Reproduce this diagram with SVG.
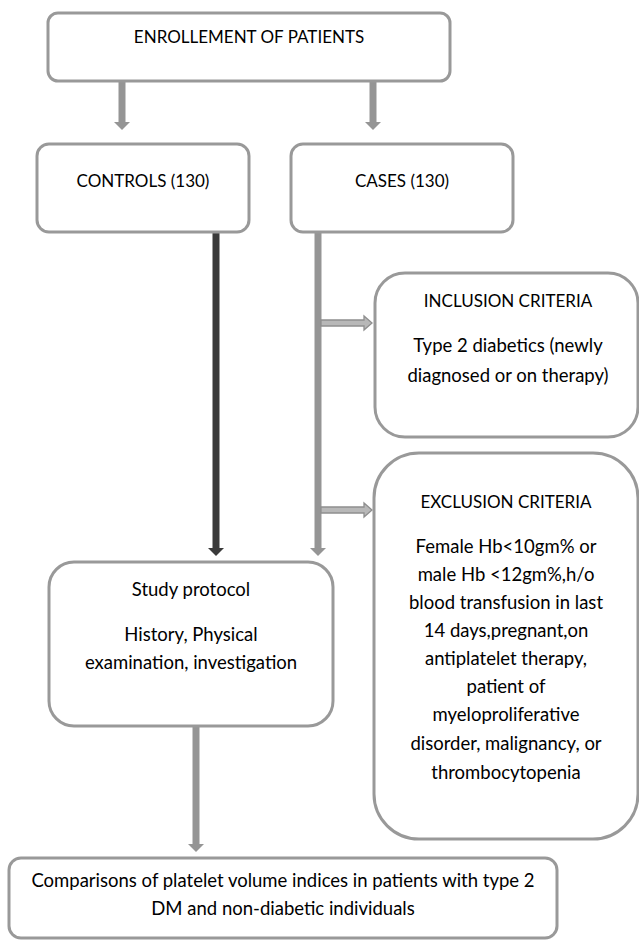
<svg xmlns="http://www.w3.org/2000/svg" width="639" height="941" viewBox="0 0 639 941">
<style>
.box{fill:#fff;stroke:#999;stroke-width:3}
.t{font-family:Lato,"Liberation Sans",sans-serif;font-size:18.5px;fill:#000;text-anchor:middle}
.c{font-size:17px}
.g{stroke:#959595;stroke-width:7;fill:none}
.d{stroke:#3a3a3a;stroke-width:7;fill:none}
.h{fill:#b8b8b8;stroke:#8f8f8f;stroke-width:1.3}
</style>
<defs>
<marker id="ag" viewBox="0 -8 8 16" refX="0" refY="0" markerUnits="userSpaceOnUse" markerWidth="8" markerHeight="16" orient="auto"><path d="M0,-8 L8,0 L0,8 Z" fill="#959595"/></marker>
<marker id="ad" viewBox="0 -8 8 16" refX="0" refY="0" markerUnits="userSpaceOnUse" markerWidth="8" markerHeight="16" orient="auto"><path d="M0,-8 L8,0 L0,8 Z" fill="#3a3a3a"/></marker>
</defs>
<rect width="639" height="941" fill="#fff"/>
<g id="connectors">
<line class="g" x1="122" y1="57" x2="122" y2="122" marker-end="url(#ag)"/>
<line class="g" x1="373" y1="57" x2="373" y2="122" marker-end="url(#ag)"/>
<line class="d" x1="216" y1="232" x2="216" y2="548" marker-end="url(#ad)"/>
<line class="g" x1="318" y1="232" x2="318" y2="548" marker-end="url(#ag)"/>
<path class="h" d="M321,320 L364,320 L364,316 L372,323 L364,330 L364,326 L321,326 Z"/>
<path class="h" d="M321,507 L364,507 L364,503 L372,510 L364,517 L364,513 L321,513 Z"/>
<line class="g" x1="196" y1="726" x2="196" y2="844" marker-end="url(#ag)"/>
</g>
<g id="enrollment">
<rect class="box" x="48" y="13" width="402" height="68" rx="10"/>
<text class="t c" x="249" y="43">ENROLLEMENT OF PATIENTS</text>
</g>
<g id="controls">
<rect class="box" x="37" y="144" width="212" height="88" rx="12"/>
<text class="t c" x="143" y="187">CONTROLS (130)</text>
</g>
<g id="cases">
<rect class="box" x="291" y="144" width="222" height="88" rx="12"/>
<text class="t c" x="402" y="187">CASES (130)</text>
</g>
<g id="inclusion">
<rect class="box" x="375" y="273" width="263" height="164" rx="30"/>
<text class="t c" x="508" y="307">INCLUSION CRITERIA</text>
<text class="t" x="508" y="352">Type 2 diabetics (newly</text>
<text class="t" x="508" y="382">diagnosed or on therapy)</text>
</g>
<g id="exclusion">
<rect class="box" x="374" y="453" width="264" height="386" rx="45"/>
<text class="t c" x="506" y="508">EXCLUSION CRITERIA</text>
<text class="t" x="506" y="553">Female Hb&lt;10gm% or</text>
<text class="t" x="506" y="581">male Hb &lt;12gm%,h/o</text>
<text class="t" x="506" y="609">blood transfusion in last</text>
<text class="t" x="506" y="637">14 days,pregnant,on</text>
<text class="t" x="506" y="665">antiplatelet therapy,</text>
<text class="t" x="506" y="693">patient of</text>
<text class="t" x="506" y="721">myeloproliferative</text>
<text class="t" x="506" y="750">disorder, malignancy, or</text>
<text class="t" x="506" y="779">thrombocytopenia</text>
</g>
<g id="protocol">
<rect class="box" x="49" y="562" width="284" height="164" rx="25"/>
<text class="t" x="191" y="596">Study protocol</text>
<text class="t" x="191" y="641">History, Physical</text>
<text class="t" x="191" y="669">examination, investigation</text>
</g>
<g id="comparison">
<rect class="box" x="9" y="858" width="548" height="80" rx="12"/>
<text class="t" x="283" y="887">Comparisons of platelet volume indices in patients with type 2</text>
<text class="t" x="283" y="915">DM and non-diabetic individuals</text>
</g>
</svg>
